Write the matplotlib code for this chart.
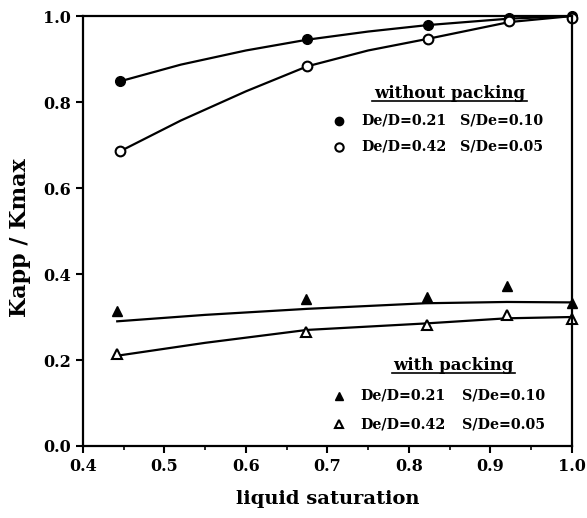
import matplotlib
matplotlib.use('Agg')
import matplotlib.pyplot as plt
from matplotlib.ticker import MultipleLocator

plt.rcParams['font.family'] = 'DejaVu Serif'
plt.rcParams['font.weight'] = 'bold'

# measured points (liquid saturation, Kapp/Kmax)
x_circ = [0.445, 0.675, 0.823, 0.923, 1.0]
y_circ_filled = [0.848, 0.947, 0.979, 0.995, 1.0]
y_circ_open = [0.685, 0.885, 0.947, 0.988, 0.996]

x_tri = [0.442, 0.674, 0.822, 0.920, 1.0]
y_tri_filled = [0.314, 0.341, 0.346, 0.373, 0.332]
y_tri_open = [0.213, 0.266, 0.281, 0.305, 0.295]

# fitted curves
x_fit_circ = [0.445, 0.52, 0.60, 0.675, 0.75, 0.823, 0.923, 1.0]
fit_circ_filled = [0.848, 0.887, 0.920, 0.945, 0.964, 0.979, 0.994, 1.0]
fit_circ_open = [0.685, 0.757, 0.825, 0.883, 0.920, 0.947, 0.986, 1.0]

x_fit_tri = [0.442, 0.55, 0.675, 0.82, 0.92, 1.0]
fit_tri_filled = [0.290, 0.305, 0.319, 0.332, 0.335, 0.334]
fit_tri_open = [0.210, 0.240, 0.270, 0.285, 0.297, 0.300]

fig = plt.figure(figsize=(5.87, 5.18), dpi=100)
ax = fig.add_axes([0.1414, 0.139, 0.833, 0.830])

lw = 1.6
ax.plot(x_fit_circ, fit_circ_filled, color='black', lw=lw)
ax.plot(x_fit_circ, fit_circ_open, color='black', lw=lw)
ax.plot(x_fit_tri, fit_tri_filled, color='black', lw=lw)
ax.plot(x_fit_tri, fit_tri_open, color='black', lw=lw)

ax.plot(x_circ, y_circ_filled, 'o', color='black', ms=7, clip_on=False)
ax.plot(x_circ, y_circ_open, 'o', mfc='white', mec='black', mew=1.5, ms=7, clip_on=False)
ax.plot(x_tri, y_tri_filled, '^', color='black', ms=7, clip_on=False)
ax.plot(x_tri, y_tri_open, '^', mfc='white', mec='black', mew=1.5, ms=7, clip_on=False)

ax.set_xlim(0.4, 1.0)
ax.set_ylim(0.0, 1.0)
ax.xaxis.set_major_locator(MultipleLocator(0.1))
ax.xaxis.set_minor_locator(MultipleLocator(0.05))
ax.yaxis.set_major_locator(MultipleLocator(0.2))
ax.tick_params(which='major', length=5, width=1.5, labelsize=11.5)
ax.tick_params(which='minor', length=3, width=1.2)
ax.set_xticklabels(['%.1f' % v for v in ax.get_xticks()])
ax.set_yticklabels(['%.1f' % v for v in ax.get_yticks()])
for s in ax.spines.values():
    s.set_linewidth(1.6)

ax.set_xlabel('liquid saturation', fontsize=14, fontweight='bold', labelpad=11)
ax.set_ylabel('Kapp / Kmax', fontsize=16, fontweight='bold', labelpad=9, y=0.484)

# legend blocks as text
fs = 10.3
ax.text(0.850, 0.821, 'without packing', fontsize=12, ha='center', va='center')
ax.plot([0.755, 0.945], [0.803, 0.803], color='black', lw=1.2)
ax.plot(0.714, 0.756, 'o', color='black', ms=6)
ax.plot(0.714, 0.696, 'o', mfc='white', mec='black', mew=1.5, ms=6)
ax.text(0.742, 0.756, 'De/D=0.21', fontsize=fs, va='center')
ax.text(0.862, 0.756, 'S/De=0.10', fontsize=fs, va='center')
ax.text(0.742, 0.696, 'De/D=0.42', fontsize=fs, va='center')
ax.text(0.862, 0.696, 'S/De=0.05', fontsize=fs, va='center')

ax.text(0.854, 0.188, 'with packing', fontsize=12, ha='center', va='center')
ax.plot([0.779, 0.930], [0.170, 0.170], color='black', lw=1.2)
ax.plot(0.714, 0.117, '^', color='black', ms=6)
ax.plot(0.714, 0.051, '^', mfc='white', mec='black', mew=1.5, ms=6)
ax.text(0.740, 0.117, 'De/D=0.21', fontsize=fs, va='center')
ax.text(0.865, 0.117, 'S/De=0.10', fontsize=fs, va='center')
ax.text(0.740, 0.051, 'De/D=0.42', fontsize=fs, va='center')
ax.text(0.865, 0.051, 'S/De=0.05', fontsize=fs, va='center')

fig.savefig('out.png', dpi=100)
